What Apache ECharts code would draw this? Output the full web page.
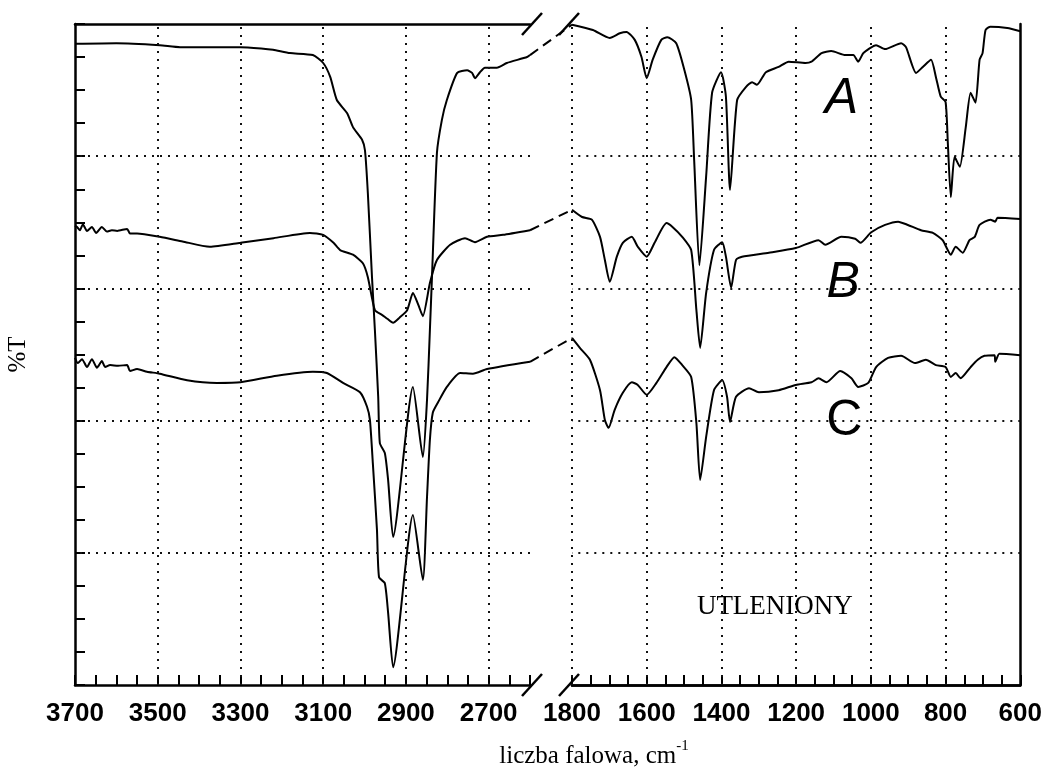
<!DOCTYPE html>
<html><head><meta charset="utf-8">
<script src="https://cdn.jsdelivr.net/npm/echarts@6/dist/echarts.min.js"></script>
<style>html,body{margin:0;padding:0;background:#fff}#c{width:1045px;height:772px}</style>
</head><body><div id="c"></div>
<script>
// ---- tick labels / grid values ----
const xTicksLeft = [3700, 3500, 3300, 3100, 2900, 2700];
const xTicksRight = [1800, 1600, 1400, 1200, 1000, 800, 600];
const xGridLeft = [3500, 3300, 3100, 2900, 2700];
const xGridRight = [1800, 1600, 1400, 1200, 1000, 800];
const yGrid = [20, 40, 60, 80];
const curveNames = ['A', 'B', 'C'];

// ---- spectra: [wavenumber cm-1, %T (arbitrary offset units)] ----
const aLeft = [[3700,97.0],[3600,97.1],[3495,96.8],[3446,96.5],[3300,96.5],[3250,96.3],[3221,96.1],[3180,95.6],[3125,95.3],[3100,94.1],[3083,92.0],[3067,88.5],[3042,86.5],[3028,84.4],[3006,82.5],[2999,80.9],[2992,74.4],[2982,61.7],[2975,53.7],[2967,43.6],[2963,36.6],[2951,35.1],[2943,31.0],[2931,22.4],[2883,45.1],[2859,34.5],[2849,43.1],[2842,53.7],[2837,61.7],[2825,80.5],[2813,85.5],[2801,88.5],[2776,92.6],[2752,93.0],[2740,92.6],[2733,91.8],[2721,92.7],[2709,93.4],[2680,93.4],[2656,94.1],[2607,95.0],[2600,95.3]];
const bLeft = [[3700,69.5],[3695,69.3],[3688,68.8],[3681,69.7],[3671,68.7],[3659,69.3],[3649,68.4],[3635,69.3],[3623,68.6],[3611,68.8],[3598,68.7],[3574,69.0],[3567,68.3],[3550,68.3],[3495,67.8],[3440,67.1],[3374,66.3],[3300,66.9],[3220,67.6],[3132,68.4],[3100,68.1],[3075,66.9],[3059,65.8],[3028,65.1],[3004,63.8],[2992,61.7],[2975,56.7],[2958,56.0],[2945,55.4],[2931,54.8],[2915,55.6],[2897,56.7],[2883,59.3],[2870,57.5],[2859,55.8],[2842,60.8],[2825,64.3],[2793,66.6],[2757,67.6],[2733,67.0],[2704,67.8],[2665,68.1],[2600,68.8]];
const cLeft = [[3700,49.5],[3693,48.7],[3683,49.3],[3671,48.1],[3659,49.3],[3647,48.0],[3635,49.0],[3627,48.1],[3615,48.4],[3596,48.3],[3574,48.4],[3567,47.5],[3550,47.8],[3526,47.4],[3495,47.1],[3429,46.1],[3357,45.7],[3300,45.8],[3212,46.8],[3125,47.4],[3091,47.2],[3052,45.7],[3011,44.3],[2994,42.1],[2987,40.1],[2980,33.6],[2970,23.5],[2965,16.3],[2951,15.4],[2943,10.9],[2931,2.7],[2883,25.7],[2859,15.9],[2849,28.4],[2842,37.1],[2835,41.2],[2822,42.8],[2801,45.1],[2769,47.2],[2738,47.1],[2704,47.8],[2600,48.9]];
const aRight = [[1800,99.9],[1744,99.1],[1699,97.9],[1672,98.6],[1654,98.8],[1632,97.6],[1614,95.0],[1600,91.8],[1584,94.6],[1561,97.6],[1545,98.0],[1521,97.1],[1499,93.0],[1481,88.5],[1473,79.4],[1459,63.5],[1441,76.9],[1425,89.6],[1401,92.7],[1388,89.0],[1377,74.9],[1358,88.5],[1334,90.5],[1318,91.2],[1305,90.8],[1281,92.7],[1247,93.5],[1220,94.3],[1175,94.1],[1159,94.3],[1132,95.6],[1106,95.9],[1068,95.3],[1047,95.3],[1034,94.3],[1020,95.6],[986,96.8],[962,96.2],[919,97.1],[906,96.5],[879,92.6],[861,93.5],[839,94.6],[826,92.0],[813,89.0],[800,88.2],[794,82.0],[786,73.8],[776,79.9],[762,78.4],[746,84.4],[733,89.6],[720,88.1],[709,94.6],[701,95.6],[693,99.1],[680,99.6],[635,99.4],[600,98.9]];
const bRight = [[1800,71.9],[1773,70.8],[1747,70.4],[1725,67.8],[1712,64.3],[1699,61.0],[1680,64.8],[1664,66.9],[1640,67.8],[1624,66.3],[1600,64.8],[1579,66.9],[1547,69.9],[1531,69.3],[1505,67.8],[1481,65.8],[1467,56.7],[1457,51.0],[1441,59.3],[1420,65.8],[1398,67.0],[1388,64.8],[1374,60.1],[1361,64.3],[1345,64.8],[1273,65.4],[1201,66.1],[1140,67.3],[1122,66.6],[1079,67.8],[1042,67.5],[1028,66.9],[999,68.5],[962,69.6],[927,70.1],[901,69.6],[866,68.8],[834,68.4],[808,67.3],[786,65.1],[773,66.3],[754,65.4],[736,67.3],[722,67.8],[709,69.6],[680,70.4],[667,70.1],[661,70.7],[600,70.5]];
const cRight = [[1800,52.5],[1779,51.0],[1752,49.2],[1725,44.6],[1712,40.1],[1702,38.9],[1686,41.6],[1664,44.2],[1640,45.8],[1624,45.4],[1600,43.9],[1574,45.7],[1547,48.1],[1526,49.6],[1505,48.4],[1481,46.6],[1467,39.6],[1457,31.0],[1441,37.5],[1420,44.6],[1398,46.1],[1385,43.6],[1377,39.8],[1361,43.6],[1326,44.9],[1300,44.3],[1247,44.6],[1201,45.4],[1159,45.8],[1140,46.4],[1119,45.8],[1082,47.5],[1052,46.4],[1034,45.1],[1007,45.7],[986,48.1],[954,49.5],[919,49.8],[882,48.7],[853,49.2],[826,48.4],[800,48.1],[786,46.6],[773,47.2],[760,46.4],[733,48.1],[714,49.2],[696,49.8],[669,49.9],[667,48.9],[656,50.1],[600,49.9]];

const leftData = [aLeft, bLeft, cLeft];
const rightData = [aRight, bRight, cRight];

const chart = echarts.init(document.getElementById('c'));
const INK = '#000';
const dotted = { color: '#111', width: 2, type: [2, 6] };

function gridMarkLine(xs) {
  return {
    silent: true, symbol: ['none', 'none'], animation: false,
    label: { show: false }, lineStyle: dotted,
    emphasis: { disabled: true },
    data: xs.map(v => ({ xAxis: v })).concat(yGrid.map(v => ({ yAxis: v })))
  };
}
function bottomAxis(gi, mn, mx, ticks) {
  return {
    type: 'value', gridIndex: gi, min: mn, max: mx, inverse: true, interval: 50,
    axisLine: { show: true, lineStyle: { color: INK, width: 2.5 } },
    axisTick: { show: true, inside: true, length: 10, lineStyle: { color: INK, width: 2 } },
    axisLabel: { show: true, margin: 16, color: INK, fontFamily: 'Liberation Sans', fontSize: 26, fontWeight: 'bold',
      formatter: v => ticks.includes(v) ? String(v) : '' },
    splitLine: { show: false }
  };
}
function topAxis(gi, mn, mx) {
  return { type: 'value', gridIndex: gi, position: 'top', min: mn, max: mx, inverse: true,
    axisLine: { show: true, lineStyle: { color: INK, width: 2.5 } },
    axisTick: { show: false }, axisLabel: { show: false }, splitLine: { show: false } };
}

const series = [];
curveNames.forEach((n, i) => {
  series.push({ name: n, type: 'line', xAxisIndex: 0, yAxisIndex: 0, data: leftData[i],
    showSymbol: false, smooth: 0.2, lineStyle: { color: INK, width: 2 }, z: 3,
    markLine: i === 0 ? gridMarkLine(xGridLeft) : undefined });
  series.push({ name: n, type: 'line', xAxisIndex: 1, yAxisIndex: 1, data: rightData[i],
    showSymbol: false, smooth: 0.2, lineStyle: { color: INK, width: 2 }, z: 3,
    markLine: i === 0 ? gridMarkLine(xGridRight) : undefined });
});

chart.setOption({
  animation: false,
  backgroundColor: '#fff',
  grid: [
    { left: 75, right: 515, top: 24, bottom: 87 },
    { left: 572, right: 22, top: 24, bottom: 87 }
  ],
  xAxis: [
    bottomAxis(0, 2600, 3700, xTicksLeft),
    bottomAxis(1, 600, 1800, xTicksRight),
    topAxis(0, 2600, 3700),
    topAxis(1, 600, 1800)
  ],
  yAxis: [
    { type: 'value', gridIndex: 0, min: 0, max: 100, interval: 5,
      name: '%T', nameLocation: 'middle', nameGap: 44, nameRotate: 90,
      nameTextStyle: { fontFamily: 'Liberation Serif', fontSize: 25, color: INK },
      axisLine: { show: true, lineStyle: { color: INK, width: 2.5 } },
      axisTick: { show: true, inside: true, length: 10, lineStyle: { color: INK, width: 2 } },
      axisLabel: { show: false }, splitLine: { show: false } },
    { type: 'value', gridIndex: 1, min: 0, max: 100, interval: 5,
      axisLine: { show: false }, axisTick: { show: false }, axisLabel: { show: false }, splitLine: { show: false } },
    { type: 'value', gridIndex: 1, position: 'right', min: 0, max: 100,
      axisLine: { show: true, lineStyle: { color: INK, width: 2.5 } },
      axisTick: { show: false }, axisLabel: { show: false }, splitLine: { show: false } }
  ],
  series: series
});

// ---- decorations derived from the axes ----
const L = { xAxisIndex: 0, yAxisIndex: 0 };
const R = { xAxisIndex: 1, yAxisIndex: 1 };
const g = [];
// dashed connectors across the axis break
curveNames.forEach((n, i) => {
  const p1 = chart.convertToPixel(L, leftData[i][leftData[i].length - 1]);
  const p2 = chart.convertToPixel(R, rightData[i][0]);
  g.push({ type: 'line', silent: true, z: 10,
    shape: { x1: p1[0], y1: p1[1], x2: p2[0], y2: p2[1] },
    style: { stroke: INK, lineWidth: 2, lineDash: [10, 6] } });
});
// break slashes
const endL = [chart.convertToPixel(L, [2600, 100]), chart.convertToPixel(L, [2600, 0])];
const endR = [chart.convertToPixel(R, [1800, 100]), chart.convertToPixel(R, [1800, 0])];
endL.concat(endR).forEach((p, k) => {
  const cx = p[0] + (k < 2 ? 2 : -3);
  g.push({ type: 'line', silent: true, z: 10,
    shape: { x1: cx - 10, y1: p[1] + 11, x2: cx + 10, y2: p[1] - 11 },
    style: { stroke: INK, lineWidth: 2.5 } });
});
// curve letters
const letterAnchors = [[1079, 88.7], [1074, 60.8], [1071, 39.9]];
curveNames.forEach((n, i) => {
  const p = chart.convertToPixel(R, letterAnchors[i]);
  g.push({ type: 'text', x: p[0], y: p[1], z: 10, silent: true,
    style: { text: n, fill: INK, align: 'center', verticalAlign: 'middle',
      font: (i < 2 ? 'italic ' : '') + '50px "Liberation Sans"' } });
});
const up = chart.convertToPixel(R, [1257, 11.8]);
g.push({ type: 'text', x: up[0], y: up[1], z: 10, silent: true,
  style: { text: 'UTLENIONY', fill: INK, align: 'center', verticalAlign: 'middle',
    font: '27px "Liberation Serif"' } });
// x-axis title
g.push({ type: 'text', x: 594, y: 754, z: 10, silent: true,
  style: { text: '{a|liczba falowa, cm}{b|-1}', align: 'center', verticalAlign: 'middle',
    rich: {
      a: { fontFamily: 'Liberation Serif', fontSize: 25, fill: INK, lineHeight: 30, verticalAlign: 'bottom' },
      b: { fontFamily: 'Liberation Serif', fontSize: 15, fill: INK, lineHeight: 30, verticalAlign: 'top' }
    } } });
chart.setOption({ graphic: g });
</script></body></html>
